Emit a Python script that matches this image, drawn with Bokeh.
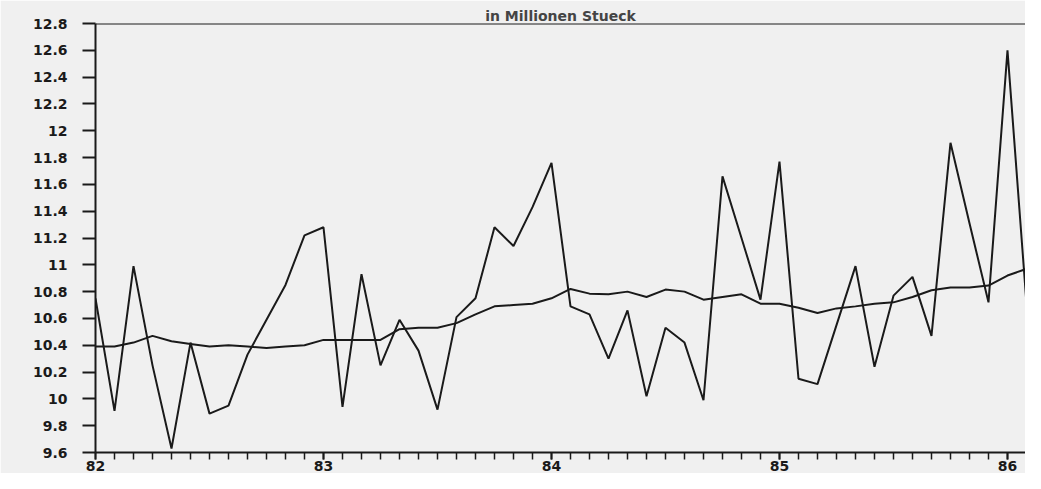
from bokeh.plotting import figure
from bokeh.models import FixedTicker, PrintfTickFormatter, Range1d, Span
from bokeh.embed import file_html
from bokeh.resources import INLINE

title_text = "in Millionen Stueck"
year_ticks = [82, 83, 84, 85, 86]
year_labels = {82: "82", 83: "83", 84: "84", 85: "85", 86: "86"}
y_ticks = [9.6, 9.8, 10.0, 10.2, 10.4, 10.6, 10.8, 11.0, 11.2, 11.4,
           11.6, 11.8, 12.0, 12.2, 12.4, 12.6, 12.8]

# monthly values, starting January 1982
monthly = [10.75, 9.91, 10.99, 10.25, 9.63, 10.42, 9.89, 9.95, 10.33, 10.59,
           10.85, 11.22, 11.28, 9.94, 10.93, 10.25, 10.59, 10.36, 9.92, 10.61,
           10.75, 11.28, 11.14, 11.43, 11.76, 10.69, 10.63, 10.30, 10.66, 10.02,
           10.53, 10.42, 9.99, 11.66, 11.20, 10.74, 11.77, 10.15, 10.11, 10.55,
           10.99, 10.24, 10.77, 10.91, 10.47, 11.91, 11.31, 10.72, 12.60, 10.71,
           10.66]
trend = [10.39, 10.39, 10.42, 10.47, 10.43, 10.41, 10.39, 10.40, 10.39, 10.38,
         10.39, 10.40, 10.44, 10.44, 10.44, 10.44, 10.52, 10.53, 10.53, 10.565,
         10.63, 10.69, 10.70, 10.71, 10.75, 10.82, 10.785, 10.78, 10.80, 10.76,
         10.815, 10.80, 10.74, 10.76, 10.78, 10.71, 10.71, 10.68, 10.64, 10.675,
         10.69, 10.71, 10.72, 10.76, 10.81, 10.83, 10.83, 10.845, 10.92, 10.97,
         11.00]

start_year = 82
months_x = [start_year + i / 12 for i in range(len(monthly))]

p = figure(width=1025, height=473, output_backend="svg", toolbar_location=None,
           x_range=Range1d(82, 86.079), y_range=Range1d(9.6, 12.8),
           min_border_left=95, min_border_right=0, min_border_top=23,
           min_border_bottom=21, title=title_text)

bg = "#f0f0f0"
p.background_fill_color = bg
p.border_fill_color = bg
p.outline_line_color = None
p.xgrid.visible = False
p.ygrid.visible = False

p.title.align = "center"
p.title.text_font = "DejaVu Sans"
p.title.text_font_size = "14px"
p.title.text_font_style = "bold"
p.title.standoff = 0
p.title.offset = 0

ink = "#1a1a1a"
p.line(months_x, trend, line_color=ink, line_width=2)
p.line(months_x, monthly, line_color=ink, line_width=2)

p.add_layout(Span(location=12.8, dimension="width", line_color=ink, line_width=2))

xa = p.xaxis[0]
xa.ticker = FixedTicker(ticks=year_ticks,
                        minor_ticks=[82 + i / 12 for i in range(0, 50)])
xa.major_label_overrides = year_labels
xa.major_tick_out = 7
xa.major_tick_in = 0
xa.minor_tick_out = 7
xa.minor_tick_in = 0
xa.major_label_standoff = 1
xa.major_label_text_font = "DejaVu Sans"
xa.major_label_text_font_style = "bold"
xa.major_label_text_font_size = "14px"

ya = p.yaxis[0]
ya.ticker = FixedTicker(ticks=y_ticks, minor_ticks=[])
ya.formatter = PrintfTickFormatter(format="%g")
ya.major_tick_out = 13
ya.major_tick_in = 0
ya.minor_tick_out = 0
ya.minor_tick_in = 0
ya.major_label_standoff = 15
ya.major_label_text_font = "DejaVu Sans"
ya.major_label_text_font_style = "bold"
ya.major_label_text_font_size = "14px"

for ax in (xa, ya):
    ax.axis_line_color = ink
    ax.axis_line_width = 2
    ax.major_tick_line_color = ink
    ax.major_tick_line_width = 2
    ax.minor_tick_line_color = ink
    ax.minor_tick_line_width = 1.5
    ax.major_label_text_color = ink

open("out.html", "w").write(file_html(p, INLINE))
